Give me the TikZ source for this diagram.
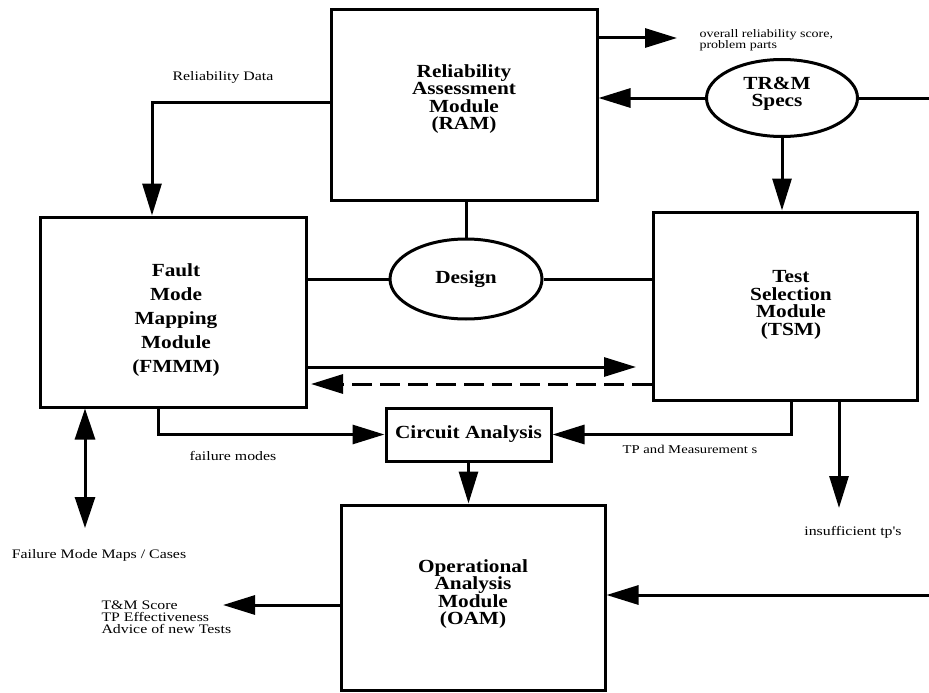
\documentclass[tikz,border=0pt]{standalone}
\usepackage{fontspec}
\setmainfont{Liberation Serif}
\newfontfamily\wideb[FakeStretch=1.15]{Liberation Serif}
\newfontfamily\widel[FakeStretch=1.22]{Liberation Serif}
\usetikzlibrary{arrows.meta,shapes.geometric}
\begin{document}
\begin{tikzpicture}[x=1pt,y=-1pt,
  line width=3pt,
  box/.style={draw,rectangle,inner sep=0pt},
  oval/.style={draw,ellipse,inner sep=0pt},
  big/.style={font=\wideb\bfseries\fontsize{18.5}{17.5}\selectfont,align=center,inner sep=0pt},
  lab/.style={font=\widel\fontsize{13}{12}\selectfont,inner sep=0pt},
  arr/.style={-{Triangle[length=32pt,width=19pt]}},
  darr/.style={{Triangle[length=31pt,width=20pt]}-{Triangle[length=31pt,width=20pt]}}]
\useasboundingbox (0,0) rectangle (929,693);
% modules
\node[box,minimum width=266pt,minimum height=190pt] (ram) at (464,105) {};
\node[big] (ramt) at (464,99) {Reliability\\Assessment\\Module\\(RAM)};
\node[box,minimum width=266pt,minimum height=190pt] (fmmm) at (173,312) {};
\node[big,font=\wideb\bfseries\fontsize{18.5}{24}\selectfont] (fmmmt) at (176,320) {Fault\\Mode\\Mapping\\Module\\(FMMM)};
\node[box,minimum width=264pt,minimum height=188pt] (tsm) at (785,306) {};
\node[big] (tsmt) at (791,305) {Test\\Selection\\Module\\(TSM)};
\node[box,minimum width=264pt,minimum height=185pt] (oam) at (473,597.5) {};
\node[big] (oamt) at (473,594) {Operational\\Analysis\\Module\\(OAM)};
\node[box,minimum width=165pt,minimum height=53pt,font=\wideb\bfseries\fontsize{18.5}{17.5}\selectfont] (ca) at (468.5,434.5) {Circuit Analysis};
\node[oval,minimum width=152pt,minimum height=80pt,font=\wideb\bfseries\fontsize{18.5}{17.5}\selectfont] (design) at (466,279) {Design};
\node[oval,minimum width=151pt,minimum height=77pt] (trm) at (782,98) {};
\node[big] (trmt) at (777,94) {TR\&M\\Specs};
% connectors
\coordinate (ors) at (677,38);
\draw[arr] (ram.east |- ors) -- (ors);
\draw[arr] (trm.west) -- (trm.west -| ram.east);
\coordinate (re1) at (929,98);
\draw (trm.east) -- (re1);
\draw[arr] (trm.south) -- (trm.south |- tsm.north);
\coordinate (rd) at (152,102);
\draw[arr] (rd -| ram.west) -| (rd |- fmmm.north);
\draw (design.north) -- (design.north |- ram.south);
\draw (design.west) -- (design.west -| fmmm.east);
\draw (design.east) -- (design.east -| tsm.west);
\coordinate (fa) at (636,367);
\draw[arr] (fa -| fmmm.east) -- (fa);
\coordinate (da) at (311,384);
\draw[arr,dash pattern=on 20pt off 8pt] (da -| tsm.west) -- (da);
\coordinate (fm) at (158,435);
\draw[arr] (fm |- fmmm.south) |- (ca.west);
\coordinate (tp) at (791,434);
\draw[arr] (tp |- tsm.south) |- (ca.east);
\coordinate (ins) at (839,508);
\draw[arr] (ins |- tsm.south) -- (ins);
\coordinate (fmc) at (85,528);
\draw[darr] (fmc |- fmmm.south) -- (fmc);
\draw[arr] (ca.south) -- (ca.south |- oam.north);
\coordinate (tm) at (223,605);
\draw[arr] (tm -| oam.west) -- (tm);
\coordinate (re2) at (929,595);
\draw[arr] (re2) -- (re2 -| oam.east);
% labels
\node[lab] (rdl) at (223,77) {Reliability Data};
\node[lab,font=\widel\fontsize{11.5}{11.5}\selectfont,align=left,anchor=north west] (orl) at (698,28) {overall reliability score,\\problem parts};
\node[lab] (fml) at (233,456) {failure modes};
\node[lab,font=\widel\fontsize{12}{12}\selectfont] (tpl) at (690,449) {TP and Measurement s};
\node[lab] (insl) at (853,532) {insufficient tp's};
\node[lab] (fmcl) at (99,555) {Failure Mode Maps / Cases};
\node[lab,align=left,anchor=north west] (tml) at (100,599) {T\&M Score\\TP Effectiveness\\Advice of new Tests};
\end{tikzpicture}
\end{document}
